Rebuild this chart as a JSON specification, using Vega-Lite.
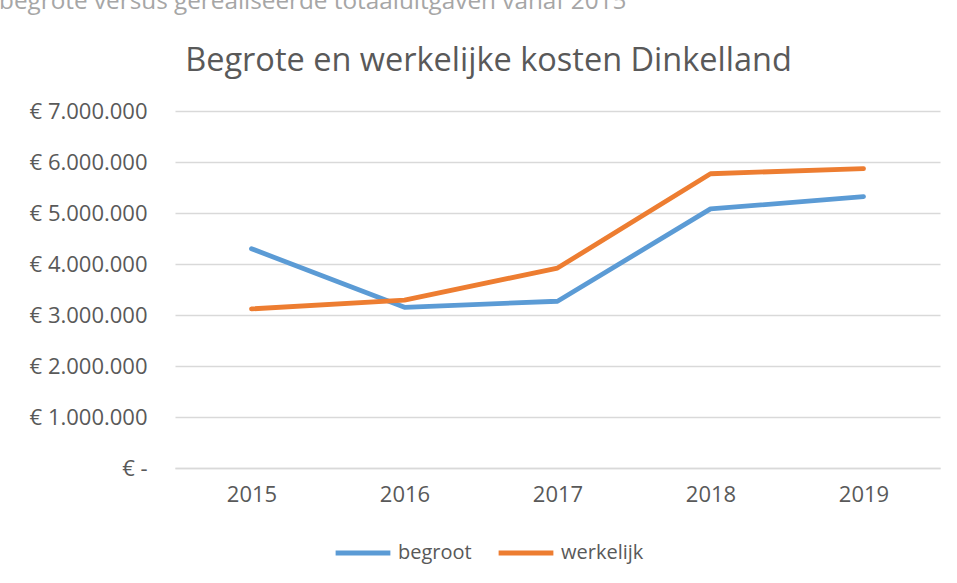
{
  "$schema": "https://vega.github.io/schema/vega-lite/v6.json",
  "width": 765,
  "height": 357,
  "autosize": {"type": "none"},
  "padding": {"left": 175, "top": 111, "right": 17, "bottom": 115},
  "background": "white",
  "title": {
    "text": "begrote versus gerealiseerde totaaluitgaven vanaf 2015",
    "anchor": "start",
    "frame": "bounds",
    "baseline": "alphabetic",
    "offset": 26,
    "dy": 15,
    "dx": -30,
    "font": "Open Sans",
    "fontSize": 24.3,
    "fontWeight": "normal",
    "color": "#a6a6a6"
  },
  "data": {
    "values": [
      {"jaar": "2015", "reeks": "begroot", "kosten": 4300000},
      {"jaar": "2016", "reeks": "begroot", "kosten": 3150000},
      {"jaar": "2017", "reeks": "begroot", "kosten": 3270000},
      {"jaar": "2018", "reeks": "begroot", "kosten": 5080000},
      {"jaar": "2019", "reeks": "begroot", "kosten": 5320000},
      {"jaar": "2015", "reeks": "werkelijk", "kosten": 3120000},
      {"jaar": "2016", "reeks": "werkelijk", "kosten": 3290000},
      {"jaar": "2017", "reeks": "werkelijk", "kosten": 3920000},
      {"jaar": "2018", "reeks": "werkelijk", "kosten": 5770000},
      {"jaar": "2019", "reeks": "werkelijk", "kosten": 5870000}
    ]
  },
  "mark": {"type": "line", "strokeWidth": 4.8, "strokeCap": "round", "strokeJoin": "round"},
  "encoding": {
    "x": {
      "field": "jaar",
      "type": "ordinal",
      "scale": {"type": "point", "padding": 0.5},
      "axis": {
        "title": null,
        "labelAngle": 0,
        "labelFont": "Open Sans",
        "labelFontSize": 22,
        "labelColor": "#595959",
        "labelPadding": 16,
        "ticks": false,
        "domain": true,
        "domainColor": "#d9d9d9",
        "domainWidth": 1.5
      }
    },
    "y": {
      "field": "kosten",
      "type": "quantitative",
      "scale": {"domain": [0, 7000000], "nice": false},
      "axis": {
        "values": [0, 1000000, 2000000, 3000000, 4000000, 5000000, 6000000, 7000000],
        "labelExpr": "datum.value == 0 ? '€ -\u00a0\u00a0\u00a0' : '€ ' + replace(format(datum.value, ','), regexp(',', 'g'), '.')",
        "labelFont": "Open Sans",
        "labelFontSize": 22,
        "labelColor": "#595959",
        "labelPadding": 28,
        "ticks": false,
        "domain": false,
        "gridColor": "#d9d9d9",
        "gridWidth": 1.5,
        "title": "Begrote en werkelijke kosten Dinkelland",
        "titleAngle": 0,
        "titleAlign": "center",
        "titleBaseline": "alphabetic",
        "titleX": 313,
        "titleY": -41,
        "titleFont": "Open Sans",
        "titleFontSize": 32.5,
        "titleFontWeight": "normal",
        "titleColor": "#595959"
      }
    },
    "color": {
      "field": "reeks",
      "type": "nominal",
      "scale": {"domain": ["begroot", "werkelijk"], "range": ["#5B9BD5", "#ED7D31"]},
      "legend": {
        "title": null,
        "orient": "none",
        "direction": "horizontal",
        "legendX": 158,
        "legendY": 412,
        "symbolType": "stroke",
        "symbolSize": 3000,
        "symbolStrokeWidth": 5,
        "labelFont": "Open Sans",
        "labelFontSize": 20,
        "labelColor": "#595959",
        "labelOffset": 5,
        "columnPadding": 16
      }
    }
  },
  "config": {"view": {"stroke": null}}
}
